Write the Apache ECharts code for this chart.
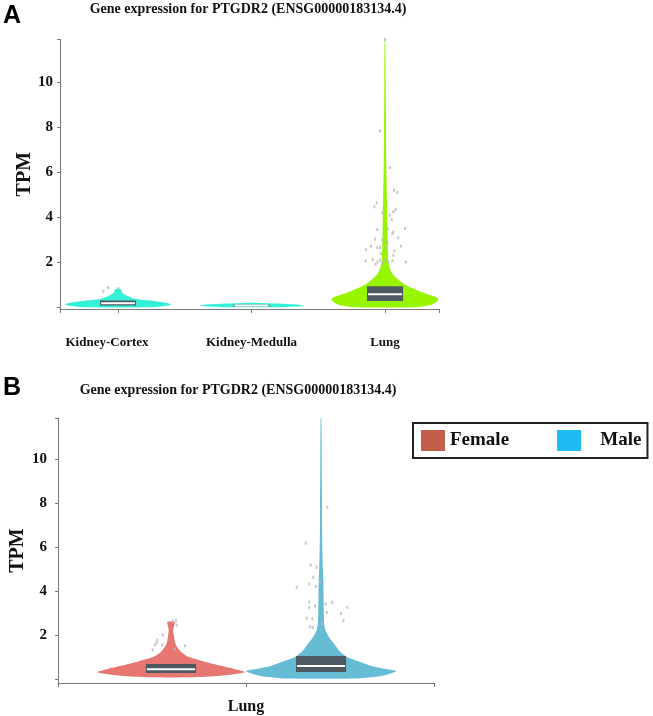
<!DOCTYPE html>
<html>
<head>
<meta charset="utf-8">
<script src="https://cdn.jsdelivr.net/npm/echarts@6/dist/echarts.min.js"></script>
<style>html,body{margin:0;padding:0;background:#fff;}#c{width:653px;height:716px;}</style>
</head>
<body>
<div id="c"></div>
<script>
// ---------- DATA ----------
const titleText = 'Gene expression for PTGDR2 (ENSG00000183134.4)';
const categoriesA = ['Kidney-Cortex', 'Kidney-Medulla', 'Lung'];
const categoriesB = ['Lung'];
const groupsB = ['Female', 'Male'];
const yTicks = [0, 2, 4, 6, 8, 10];
const yLabels = [2, 4, 6, 8, 10];

// violin density profiles (TPM levels, relative density)
const cortexLevels = [0, 0.05, 0.12, 0.2, 0.28, 0.36, 0.45, 0.55, 0.65, 0.8];
const cortexDensity = [35, 47, 53, 48, 35, 18, 12, 7, 4, 3];
const medullaLevels = [0, 0.04, 0.08, 0.12, 0.16, 0.2];
const medullaDensity = [30, 48, 52, 45, 25, 2];
const lungLevels = [0, 0.1, 0.25, 0.4, 0.55, 0.7, 0.85, 1.0, 1.2, 1.4, 1.6, 1.8, 2.0, 2.5, 3, 4, 5, 6, 7, 8, 9, 10, 11, 11.9];
const lungDensity = [30, 46, 52, 53, 44, 35, 27, 20, 14, 9, 6, 4.5, 3.5, 2.8, 2.5, 2.2, 1.8, 1.4, 1.1, 1, 0.8, 0.7, 0.6, 0.3];
const femaleLevels = [0.08, 0.15, 0.25, 0.32, 0.45, 0.6, 0.8, 1.0, 1.2, 1.4, 1.6, 1.8, 2.0, 2.2, 2.35, 2.5, 2.6];
const femaleDensity = [20, 50, 68, 74, 64, 50, 33, 18, 11, 7, 4.5, 3.5, 2.8, 2.2, 2.8, 3.6, 3.6];
const maleLevels = [0.02, 0.1, 0.2, 0.36, 0.56, 0.8, 1.0, 1.3, 1.6, 1.9, 2.2, 2.5, 3, 3.5, 4, 4.5, 5, 6, 7, 8, 9, 10, 11, 11.88];
const maleDensity = [35, 55, 66, 75, 53, 38, 26, 18, 13, 8, 4.5, 3.2, 2.8, 2.6, 2.5, 2.3, 1.8, 1.3, 1, 1, 0.8, 0.7, 0.6, 0.3];

// box stats [q1, median, q3]
const cortexBox = [0.07, 0.18, 0.3];
const medullaBox = [0.03, 0.07, 0.12];
const lungBox = [0.28, 0.58, 0.93];
const femaleBox = [0.27, 0.45, 0.68];
const maleBox = [0.32, 0.59, 1.05];

// outliers [jitter from category centre, TPM]
const cortexDots = [[-0.110, 0.71], [-0.073, 0.87], [0.002, 0.83]];
const lungDots = [[0.037, 6.2], [0.067, 5.2], [0.092, 5.1], [-0.080, 4.46], [-0.062, 4.64], [-0.020, 4.19], [0.037, 4.09], [0.062, 4.24], [0.080, 4.34], [0.050, 3.9], [-0.058, 3.45], [0.020, 3.5], [0.055, 3.27], [0.150, 3.5], [-0.075, 3.02], [-0.020, 2.98], [0.017, 2.9], [0.062, 3.35], [0.100, 3.08], [-0.105, 2.71], [-0.058, 2.65], [-0.037, 2.65], [0.005, 2.65], [0.070, 2.5], [0.120, 2.71], [-0.142, 2.56], [-0.030, 2.38], [0.062, 2.31], [-0.145, 2.06], [-0.092, 2.12], [-0.055, 2.01], [-0.037, 2.09], [-0.017, 1.97], [0, 2.09], [0.025, 2.01], [0.055, 2.06], [-0.070, 1.91], [0.157, 2.01], [-0.037, 7.84], [0, 11.9]];
const femaleDots = [[0.011, 2.64], [0.033, 2.65], [0.038, 2.45], [-0.055, 2.0], [-0.091, 1.77], [-0.095, 1.65], [-0.107, 1.55], [-0.122, 1.32], [-0.058, 1.55], [0.025, 1.35], [0.093, 1.51]];
const maleDots = [[0.042, 7.8], [-0.102, 6.17], [-0.069, 5.18], [-0.029, 5.08], [-0.051, 4.62], [-0.162, 4.17], [-0.078, 4.32], [-0.035, 4.2], [-0.007, 4.42], [-0.011, 3.86], [-0.078, 3.49], [-0.078, 3.26], [-0.040, 3.32], [0.031, 3.41], [0.075, 3.49], [0.038, 3.02], [-0.095, 2.76], [-0.058, 2.73], [0.175, 3.26], [0.133, 2.98], [0.149, 2.65], [-0.073, 2.38], [-0.055, 2.35], [0.009, 2.53], [-0.1, 11.88]];

// ---------- STYLE ----------
const serif = 'Liberation Serif';
const axisColor = '#7a7a7a';
const boxColor = '#4f5961';
const dotColor = '#b9b9c2';
const cyan = '#35f0d8', green = '#97f500', femaleColor = '#e6766f', maleColor = '#66bcd5';
const legendFemale = '#c45e4c', legendMale = '#1ebcf5';

function violin(name, axisIdx, center, levels, dens, color, halfW) {
  const maxD = Math.max.apply(null, dens);
  return {
    type: 'custom', name: name, xAxisIndex: axisIdx, yAxisIndex: axisIdx, silent: true, z: 2,
    data: [[center, levels[0]]],
    renderItem: function (params, api) {
      const pts = [];
      for (let i = 0; i < levels.length; i++) pts.push(api.coord([center + dens[i] / maxD * halfW, levels[i]]));
      for (let i = levels.length - 1; i >= 0; i--) pts.push(api.coord([center - dens[i] / maxD * halfW, levels[i]]));
      return { type: 'polygon', shape: { points: pts, smooth: 0.25 }, style: { fill: color } };
    }
  };
}
function box(axisIdx, center, stats, halfW) {
  return {
    type: 'custom', xAxisIndex: axisIdx, yAxisIndex: axisIdx, silent: true, z: 3,
    data: [[center, stats[1]]],
    renderItem: function (params, api) {
      const tl = api.coord([center - halfW, stats[2]]);
      const br = api.coord([center + halfW, stats[0]]);
      const m1 = api.coord([center - halfW, stats[1]]);
      const m2 = api.coord([center + halfW, stats[1]]);
      return { type: 'group', children: [
        { type: 'rect', shape: { x: tl[0], y: tl[1], width: br[0] - tl[0], height: Math.max(br[1] - tl[1], 2) }, style: { fill: boxColor } },
        { type: 'line', shape: { x1: m1[0] + 1, y1: m1[1], x2: m2[0] - 1, y2: m2[1] }, style: { stroke: '#ffffff', lineWidth: 2 } }
      ] };
    }
  };
}
function dots(axisIdx, center, list) {
  return {
    type: 'scatter', xAxisIndex: axisIdx, yAxisIndex: axisIdx, silent: true, z: 5,
    symbol: 'rect', symbolSize: [2, 3], itemStyle: { color: dotColor },
    data: list.map(d => [center + d[0], d[1]])
  };
}

const xA = { min: -0.4345, max: 2.4045 };
const xB = { min: -1.253, max: 1.253 };
const centersB = [-0.5, 0.5];

function yAxis(idx, min, max, gap, margin) {
  return {
    gridIndex: idx, type: 'value', min: min, max: max,
    name: 'TPM', nameLocation: 'middle', nameGap: gap, nameMoveOverlap: false,
    nameTextStyle: { fontFamily: serif, fontWeight: 'bold', fontSize: 20, color: '#111' },
    axisLine: { show: true, onZero: false, lineStyle: { color: axisColor } },
    axisTick: { show: true, length: 3, customValues: yTicks.concat([max]), lineStyle: { color: axisColor } },
    axisLabel: { customValues: yLabels, fontFamily: serif, fontWeight: 'bold', fontSize: 15, color: '#111', margin: margin },
    splitLine: { show: false }
  };
}

const option = {
  animation: false,
  graphic: [
    { type: 'text', left: 3, top: 4, style: { text: 'A', font: 'bold 25px "Liberation Sans"', fill: '#000' } },
    { type: 'text', left: 3, top: 376, style: { text: 'B', font: 'bold 25px "Liberation Sans"', fill: '#000' } },
    { type: 'text', x: 248, y: 9, style: { text: titleText, font: 'bold 14px "Liberation Serif"', fill: '#111', textAlign: 'center', textVerticalAlign: 'middle' } },
    { type: 'text', x: 238, y: 390, style: { text: titleText, font: 'bold 14px "Liberation Serif"', fill: '#111', textAlign: 'center', textVerticalAlign: 'middle' } }
  ],
  legend: {
    left: 413, top: 423, orient: 'horizontal',
    borderColor: '#222', borderWidth: 2, padding: [7, 6, 7, 8],
    itemWidth: 24, itemHeight: 21, itemGap: 48, icon: 'rect', selectedMode: false,
    textStyle: { fontFamily: serif, fontWeight: 'bold', fontSize: 19, color: '#111' },
    formatter: n => n === 'Male' ? '   Male' : n,
    data: [
      { name: 'Female', itemStyle: { color: legendFemale } },
      { name: 'Male', itemStyle: { color: legendMale } }
    ]
  },
  grid: [
    { left: 60, width: 379, top: 39.4, height: 269.6, outerBoundsMode: 'none', containLabel: false },
    { left: 58, width: 376, top: 418, height: 265, outerBoundsMode: 'none', containLabel: false }
  ],
  xAxis: [
    {
      gridIndex: 0, type: 'value', min: xA.min, max: xA.max,
      axisLine: { onZero: false, lineStyle: { color: axisColor } },
      axisTick: { show: true, length: 4, customValues: [xA.min, 0, 1, 2, xA.max], lineStyle: { color: axisColor } },
      axisLabel: {
        customValues: [0, 1, 2],
        formatter: v => { const i = Math.round(v); return i === 0 ? '{s|' + categoriesA[i] + '}' : categoriesA[i]; },
        rich: { s: { fontFamily: serif, fontWeight: 'bold', fontSize: 13, color: '#111', padding: [0, 22, 0, 0] } },
        fontFamily: serif, fontWeight: 'bold', fontSize: 13, color: '#111', margin: 27
      },
      splitLine: { show: false }
    },
    {
      gridIndex: 1, type: 'value', min: xB.min, max: xB.max,
      axisLine: { onZero: false, lineStyle: { color: axisColor } },
      axisTick: { show: true, length: 4, customValues: [xB.min, 0, xB.max], lineStyle: { color: axisColor } },
      axisLabel: { customValues: [0], formatter: () => categoriesB[0], fontFamily: serif, fontWeight: 'bold', fontSize: 16, color: '#111', margin: 16 },
      splitLine: { show: false }
    }
  ],
  yAxis: [yAxis(0, -0.08, 11.9, 25, 7), yAxis(1, -0.18, 11.86, 30, 11)],
  series: [
    violin('Kidney-Cortex', 0, 0, cortexLevels, cortexDensity, cyan, 0.397),
    violin('Kidney-Medulla', 0, 1, medullaLevels, medullaDensity, cyan, 0.39),
    violin('Lung', 0, 2, lungLevels, lungDensity, green, 0.397),
    box(0, 0, cortexBox, 0.135),
    box(0, 1, medullaBox, 0.135),
    box(0, 2, lungBox, 0.135),
    dots(0, 0, cortexDots),
    dots(0, 2, lungDots),
    violin(groupsB[0], 1, centersB[0], femaleLevels, femaleDensity, femaleColor, 0.493),
    violin(groupsB[1], 1, centersB[1], maleLevels, maleDensity, maleColor, 0.5),
    box(1, centersB[0], femaleBox, 0.167),
    box(1, centersB[1], maleBox, 0.167),
    dots(1, centersB[0], femaleDots),
    dots(1, centersB[1], maleDots)
  ]
};
const chart = echarts.init(document.getElementById('c'), null, { renderer: 'canvas' });
chart.setOption(option);
</script>
</body>
</html>
